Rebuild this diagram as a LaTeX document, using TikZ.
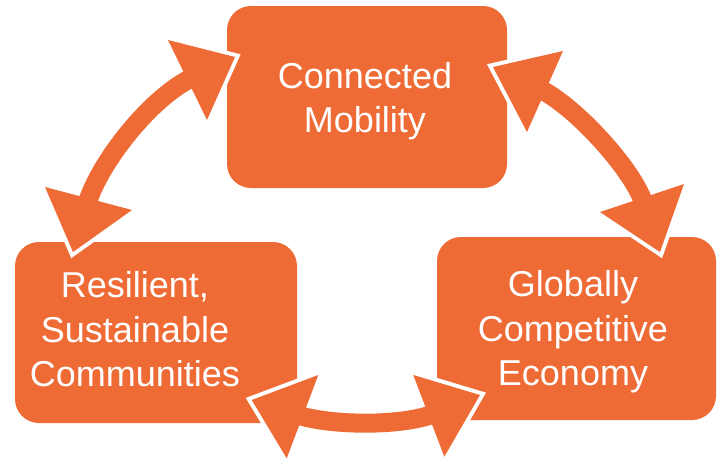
\documentclass[tikz,border=0pt]{standalone}
\usepackage{fontspec}
\setmainfont{Liberation Sans}
\usetikzlibrary{calc}
\definecolor{orng}{RGB}{239,107,54}
\tikzset{
  box/.style={fill=orng, rounded corners=24pt, inner sep=0pt},
  txt/.style={text=white, align=center, inner sep=0pt, font=\fontsize{36}{44.5}\selectfont},
  headrim/.style={draw=white, fill=white, line width=8pt, line join=miter},
  headfill/.style={fill=orng},
  shaft/.style={draw=orng, line width=19pt}
}
\begin{document}
\begin{tikzpicture}[x=1pt,y=-1pt]
\useasboundingbox (0,0) rectangle (721,461);
% boxes
\node[box, minimum width=280pt, minimum height=182pt] (top) at (367,97) {};
\node[box, minimum width=282pt, minimum height=181pt] (left) at (156,332.5) {};
\node[box, minimum width=279pt, minimum height=183pt] (right) at (576.5,328.5) {};
% texts
\node[txt] (topT) at (365,101.2) {Connected\\Mobility};
\node[txt] (leftT) at (135,329.4) {Resilient,\\Sustainable\\Communities};
\node[txt] (rightT) at (573,331.7) {Globally\\Competitive\\Economy};
% arrow heads: tip, two base corners
\coordinate (a1t) at (235,57);   \coordinate (a1l) at (168,40);  \coordinate (a1r) at (207,120);
\coordinate (a2t) at (73,252);   \coordinate (a2l) at (45,187);  \coordinate (a2r) at (132,210);
\coordinate (b1t) at (493,67);   \coordinate (b1l) at (563,51);  \coordinate (b1r) at (527,132);
\coordinate (b2t) at (660,252);  \coordinate (b2l) at (600,212); \coordinate (b2r) at (684,184);
\coordinate (c1t) at (251.7,400);\coordinate (c1l) at (318.3,375); \coordinate (c1r) at (286.7,458.3);
\coordinate (c2t) at (480,395);  \coordinate (c2l) at (413.3,375); \coordinate (c2r) at (444.3,456.7);
% shaft end points (slightly inside the heads)
\coordinate (a1m) at ($($(a1l)!0.5!(a1r)$)!6pt!(a1t)$);
\coordinate (a2m) at ($($(a2l)!0.5!(a2r)$)!6pt!(a2t)$);
\coordinate (b1m) at ($($(b1l)!0.5!(b1r)$)!6pt!(b1t)$);
\coordinate (b2m) at ($($(b2l)!0.5!(b2r)$)!6pt!(b2t)$);
\coordinate (c1m) at ($($(c1l)!0.5!(c1r)$)!6pt!(c1t)$);
\coordinate (c2m) at ($($(c2l)!0.5!(c2r)$)!6pt!(c2t)$);
% white rims
\foreach \h in {a1,a2,b1,b2,c1,c2}{
  \draw[headrim] (\h t) -- (\h l) -- (\h r) -- cycle;
}
% shafts
\draw[shaft] (a1m) .. controls +(-41,19) and +(13,-43) .. (a2m);
\draw[shaft] (b1m) .. controls +(34,16) and +(-11,-35) .. (b2m);
\draw[shaft] (c1m) .. controls +(34,11) and +(-33,13) .. (c2m);
% heads
\foreach \h in {a1,a2,b1,b2,c1,c2}{
  \fill[headfill] (\h t) -- (\h l) -- (\h r) -- cycle;
}
\end{tikzpicture}
\end{document}
